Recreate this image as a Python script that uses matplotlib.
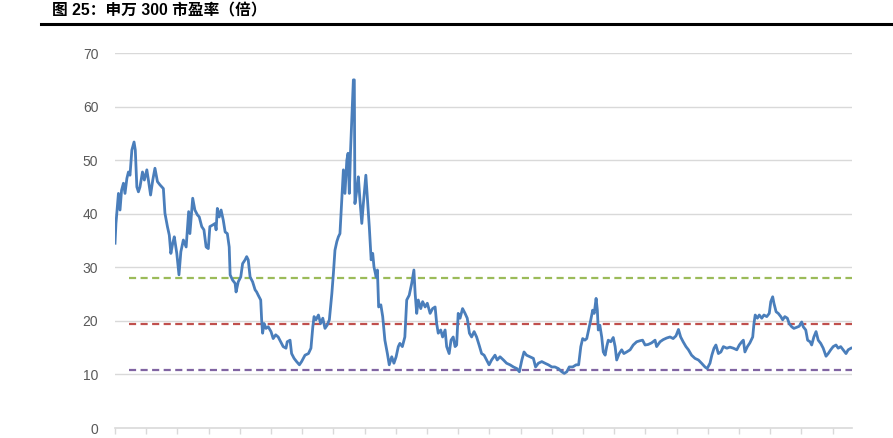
import matplotlib
matplotlib.use("Agg")
import matplotlib.pyplot as plt

# 申万300 市盈率, x = years since start of series
years = [0.00, 0.03, 0.11, 0.16, 0.21, 0.27, 0.32, 0.38, 0.43, 0.48, 0.54, 0.61, 0.65, 0.70,
         0.75, 0.80, 0.88, 0.94, 1.02, 1.07, 1.14, 1.21, 1.28, 1.36, 1.44, 1.55, 1.60, 1.68,
         1.74, 1.79, 1.85, 1.90, 1.98, 2.05, 2.11, 2.19, 2.28, 2.36, 2.40, 2.49, 2.56, 2.64,
         2.70, 2.78, 2.85, 2.92, 2.99, 3.04, 3.13, 3.21, 3.24, 3.28, 3.34, 3.40, 3.47, 3.53,
         3.60, 3.66, 3.69, 3.77, 3.85, 3.88, 3.95, 4.03, 4.09, 4.17, 4.22, 4.27, 4.33, 4.41,
         4.49, 4.54, 4.59, 4.67, 4.70, 4.73, 4.78, 4.84, 4.91, 5.00, 5.07, 5.15, 5.23, 5.31,
         5.39, 5.48, 5.52, 5.61, 5.66, 5.74, 5.82, 5.91,
         5.98, 6.09, 6.20, 6.28, 6.34, 6.38, 6.44, 6.52, 6.59, 6.66, 6.73, 6.80, 6.87, 6.95,
         7.00, 7.05, 7.11, 7.16, 7.21, 7.27, 7.32, 7.37, 7.43, 7.47, 7.51, 7.55, 7.60, 7.64,
         7.67, 7.69, 7.75, 7.80, 7.85, 7.91, 7.96, 8.04, 8.10, 8.15, 8.21, 8.26, 8.30, 8.37,
         8.41, 8.45, 8.52, 8.58, 8.65, 8.73, 8.79, 8.87, 8.94, 9.01, 9.08, 9.13, 9.21, 9.29,
         9.35, 9.43, 9.51, 9.58, 9.62, 9.67, 9.72, 9.80, 9.86, 9.94, 10.01, 10.10, 10.18, 10.26,
         10.31, 10.36, 10.44, 10.50, 10.58, 10.63, 10.71, 10.77, 10.84, 10.90, 10.95, 11.00,
         11.06, 11.14, 11.22, 11.29, 11.36, 11.43, 11.51, 11.59,
         11.68, 11.75, 11.83, 11.91, 11.99, 12.07, 12.18, 12.25, 12.34, 12.45, 12.55, 12.66,
         12.77, 12.88, 12.96, 13.04, 13.11, 13.19, 13.30, 13.41, 13.48, 13.57, 13.68, 13.78,
         13.89, 14.00, 14.10, 14.21, 14.32, 14.40, 14.48, 14.56, 14.67, 14.78, 14.86, 14.93,
         14.99, 15.06, 15.12, 15.19, 15.25, 15.31, 15.36, 15.42, 15.46, 15.49, 15.54, 15.60,
         15.65, 15.71, 15.76, 15.81, 15.89, 15.97, 16.03, 16.08, 16.16, 16.24, 16.31, 16.40,
         16.51, 16.61, 16.72, 16.83, 16.91, 16.99, 17.09, 17.20, 17.31, 17.36, 17.47, 17.57,
         17.68, 17.79, 17.89, 17.98, 18.06, 18.13, 18.21, 18.30, 18.38, 18.48, 18.59, 18.70,
         18.80, 18.91, 18.98, 19.07, 19.13, 19.20, 19.26, 19.34, 19.42, 19.50, 19.61, 19.71,
         19.82, 19.93, 20.01, 20.09, 20.14, 20.19, 20.27, 20.35, 20.44, 20.48, 20.52, 20.59,
         20.65, 20.73, 20.80, 20.89, 20.97, 21.02, 21.08, 21.12, 21.19, 21.26, 21.34, 21.40,
         21.47, 21.55, 21.61, 21.69, 21.76, 21.85, 21.93, 22.01, 22.06, 22.14, 22.20, 22.28,
         22.33, 22.40, 22.47, 22.54, 22.62, 22.70, 22.79, 22.86, 22.94, 23.02, 23.11, 23.18,
         23.26, 23.34, 23.43, 23.50, 23.59]

pe = [34.5, 38.2, 43.8, 40.7, 44.4, 45.7, 43.8, 46.6, 47.8, 47.2, 51.9, 53.4, 51.9, 45.0,
      44.1, 45.0, 47.8, 46.3, 48.2, 46.3, 43.5, 46.3, 48.5, 46.0, 45.4, 44.7, 40.1, 37.6,
      36.0, 32.6, 34.5, 35.7, 32.6, 28.6, 32.9, 35.1, 33.8, 40.4, 36.3, 42.9, 40.7, 39.8,
      39.4, 37.6, 37.0, 33.8, 33.5, 37.6, 37.9, 38.2, 37.0, 41.0, 39.4, 40.7, 38.8, 36.6,
      36.3, 33.8, 28.6, 27.6, 27.0, 25.4, 27.3, 28.2, 30.7, 31.4, 32.0, 31.4, 28.2, 27.3,
      25.8, 25.4, 24.8, 23.9, 20.2, 17.7, 19.5, 18.6, 18.9, 18.0, 16.7, 17.4, 17.0, 16.1,
      15.2, 14.9, 16.1, 16.4, 13.9, 13.0, 12.4, 11.8,
      12.4, 13.6, 13.9, 14.9, 18.9, 20.8, 20.2, 21.1, 19.5, 20.5, 18.6, 19.2, 20.2, 25.1,
      28.9, 33.2, 34.8, 35.7, 36.3, 42.6, 48.2, 43.8, 50.0, 51.3, 43.8, 51.9, 59.4, 65.0,
      65.0, 41.9, 44.4, 46.9, 42.6, 38.2, 41.9, 47.2, 41.9, 37.6, 31.4, 32.6, 30.1, 28.2,
      29.5, 22.6, 23.0, 20.8, 16.4, 13.9, 11.8, 13.3, 12.1, 13.3, 15.2, 15.8, 15.2, 17.0,
      23.9, 24.8, 27.0, 29.5, 25.1, 21.4, 23.9, 22.3, 23.6, 22.6, 23.3, 21.4, 22.3, 22.6,
      19.5, 17.7, 18.3, 17.0, 18.3, 15.2, 13.9, 16.4, 17.0, 15.2, 15.5, 21.4,
      20.5, 22.3, 21.4, 20.5, 17.7, 17.0, 18.0, 17.0,
      15.3, 13.9, 13.6, 12.7, 11.8, 12.7, 13.6, 12.7, 13.3, 12.7, 12.1, 11.8,
      11.4, 11.1, 10.5, 12.7, 14.2, 13.6, 13.3, 13.0, 11.4, 12.1, 12.4, 12.1,
      11.8, 11.4, 11.4, 11.1, 10.5, 10.2, 10.5, 11.4, 11.4, 11.8, 11.8, 15.2,
      16.7, 16.4, 16.7, 18.6, 20.2, 22.0, 21.4, 24.2, 22.0, 18.3, 19.2, 17.0,
      14.2, 13.6, 15.2, 16.4, 16.1, 16.9, 15.2, 12.7, 13.9, 14.6, 13.9, 14.2,
      14.6, 15.5, 16.1, 16.3, 16.4, 15.5, 15.6, 15.9, 16.4, 15.2, 16.1, 16.5,
      16.8, 17.0, 16.7, 17.2, 18.4, 17.0, 16.1, 15.2, 14.6, 13.6, 13.0, 12.7,
      12.1, 11.4, 11.1, 12.1, 13.6, 14.9, 15.5, 13.9, 14.2, 15.2, 14.9, 15.1,
      14.9, 14.6, 15.5, 16.1, 16.4, 14.2, 15.2, 15.9, 17.0, 19.5, 21.1, 20.5,
      21.1, 20.5, 21.1, 20.8, 21.4, 23.6, 24.5, 23.3, 21.7, 21.4, 20.8, 20.2,
      20.8, 20.5, 19.5, 18.9, 18.6, 18.8, 19.0, 19.8, 18.9, 18.3, 16.4, 16.1,
      15.5, 17.0, 18.0, 16.4, 15.8, 14.9, 13.4, 13.9, 14.6, 15.2, 15.5, 14.9,
      15.2, 14.6, 13.9, 14.6, 14.9]

# reference levels (dashed)
level_names = ["+1std", "mean", "-1std"]
level_values = [28.1, 19.5, 10.8]
level_colors = ["#9BBB59", "#C0504D", "#8064A2"]
level_start = 0.45
x_end = 23.62

title = "图 25：申万 300 市盈率（倍）"

fig = plt.figure(figsize=(8.93, 4.38), dpi=100)
ax = fig.add_axes([0.1288, 0.0228, 0.8252, 0.856])

for y in range(10, 80, 10):
    ax.axhline(y, color="#d9d9d9", lw=1.0, zorder=0)

for v, c in zip(level_values, level_colors):
    ax.plot([level_start, x_end], [v, v], color=c, lw=1.6, ls=(0, (3.2, 2.0)), zorder=2)

ax.plot(years, pe, color="#4A7EBB", lw=2.0, zorder=3)

ax.set_xlim(0, x_end)
ax.set_ylim(0, 70)
ax.set_yticks(range(0, 80, 10))
ax.set_xticks(range(0, 24))
ax.set_xticklabels([])
ax.tick_params(axis="y", length=0, pad=12, labelsize=10, labelcolor="#595959")
ax.tick_params(axis="x", length=4, width=1, color="#d9d9d9", direction="out")
for lab in ax.get_yticklabels():
    lab.set_family(["Liberation Sans", "DejaVu Sans"])
for s in ["top", "right", "left"]:
    ax.spines[s].set_visible(False)
ax.spines["bottom"].set_color("#d9d9d9")
ax.spines["bottom"].set_linewidth(1.2)

fig.text(52 / 893, 1 - 11 / 438, title, fontsize=11.3, fontweight="bold",
         family=["Liberation Sans", "Noto Sans CJK SC"], va="center", ha="left")
fig.add_artist(plt.Line2D([41 / 893, 1.0], [1 - 23.5 / 438, 1 - 23.5 / 438],
                          color="black", lw=2.2, transform=fig.transFigure))

fig.savefig("out.png", dpi=100)
